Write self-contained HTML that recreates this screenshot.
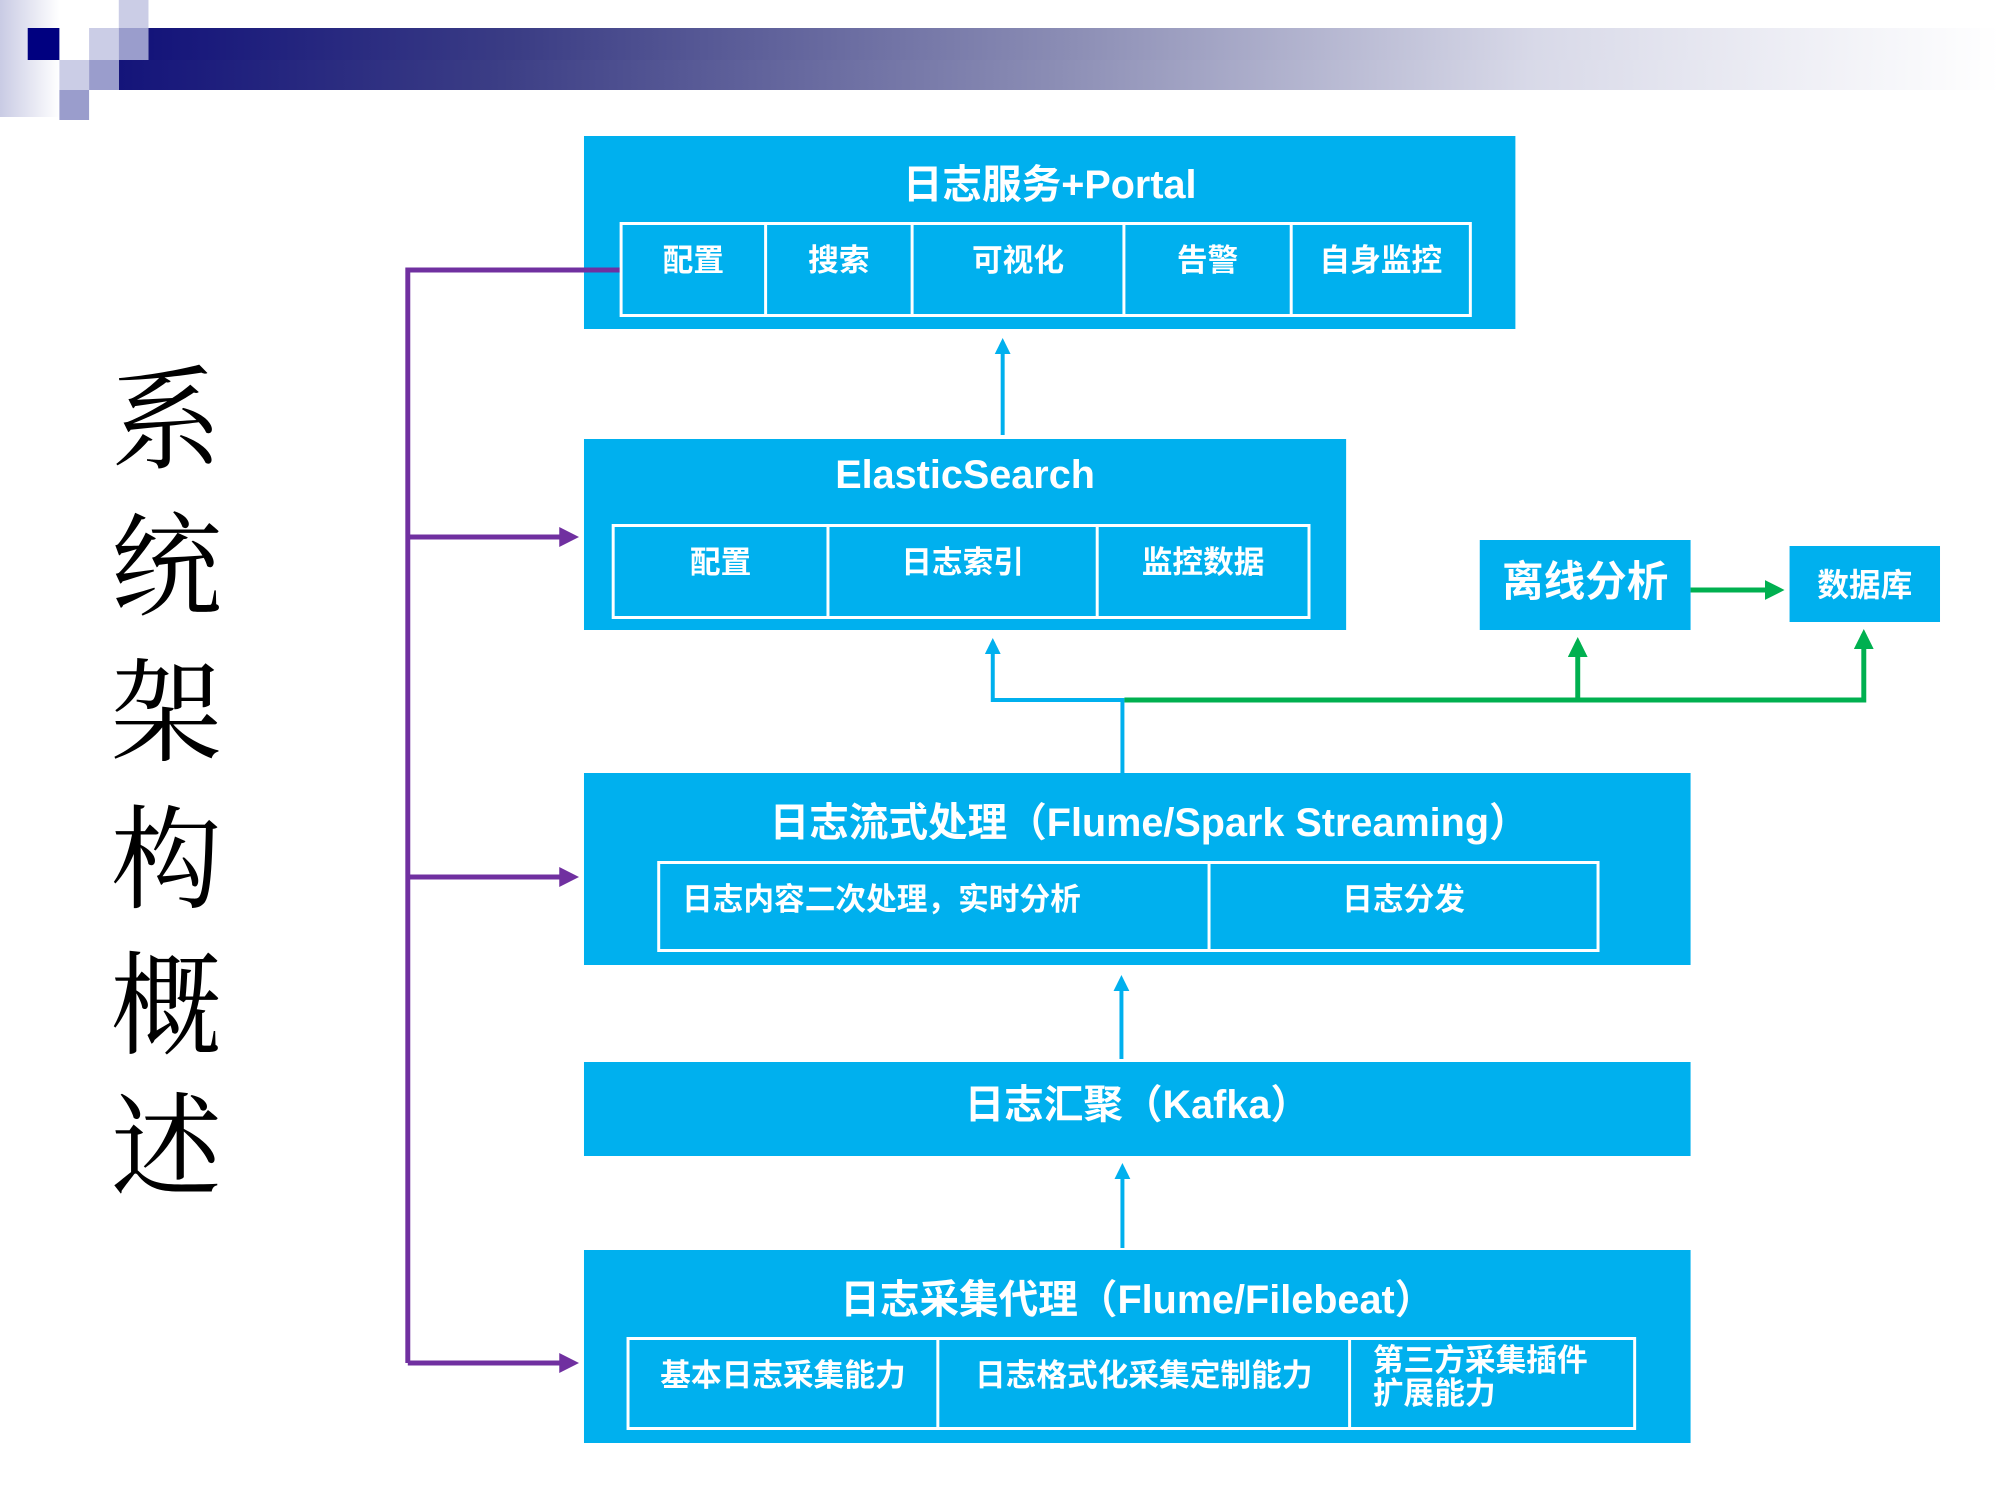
<!DOCTYPE html>
<html><head><meta charset="utf-8"><style>
*{margin:0;padding:0;box-sizing:border-box}
html,body{width:2000px;height:1500px;overflow:hidden;background:#fff}
#w{width:2000px;height:1500px;position:relative;transform:scaleX(0.9898);transform-origin:0 0;font-family:"Liberation Sans","Noto Sans CJK SC",sans-serif}
.a{position:absolute}
.box{position:absolute;background:#00b0ee}
.t{position:absolute;left:0;right:0;text-align:center;color:#fff;font-weight:bold;white-space:nowrap}
.row{position:absolute;border:3px solid #fff;display:flex}
.row>div{border-right:3px solid #fff;color:#fff;font-weight:bold;font-size:31px;display:flex;justify-content:center;padding-top:10px;white-space:nowrap}
.row>div:last-child{border-right:none}
.v{position:absolute;left:108px;width:120px;text-align:center;font-family:"Liberation Serif","Noto Serif CJK SC",serif;font-size:112px;line-height:112px;color:#000}
</style></head><body><div id="w">
<div class="a" style="left:0;top:0;width:60px;height:117px;background:linear-gradient(90deg,#c9cbe4,#fff)"></div>
<div class="a" style="left:150px;top:28px;width:1870px;height:32px;background:linear-gradient(90deg,#14147a,#3b3d85 20%,#8c8eb5 50%,#d8d9e8 75%,#fff 100%)"></div>
<div class="a" style="left:120px;top:60px;width:1900px;height:30px;background:linear-gradient(90deg,#14147a,#3b3d85 20%,#8c8eb5 50%,#d8d9e8 75%,#fff 100%)"></div>
<div class="a" style="left:28px;top:28px;width:32px;height:32px;background:#000080"></div>
<div class="a" style="left:120px;top:0;width:30px;height:28px;background:#cbcde6"></div>
<div class="a" style="left:90px;top:28px;width:30px;height:32px;background:#cbcde6"></div>
<div class="a" style="left:120px;top:28px;width:30px;height:32px;background:#9a9dcc"></div>
<div class="a" style="left:60px;top:60px;width:30px;height:30px;background:#cbcde6"></div>
<div class="a" style="left:90px;top:60px;width:30px;height:30px;background:#9a9dcc"></div>
<div class="a" style="left:60px;top:90px;width:30px;height:30px;background:#9a9dcc"></div>

<div class="v" style="top:366px">系</div>
<div class="v" style="top:513px">统</div>
<div class="v" style="top:659px">架</div>
<div class="v" style="top:806px">构</div>
<div class="v" style="top:952px">概</div>
<div class="v" style="top:1093px">述</div>

<div class="box" style="left:590px;top:136px;width:941px;height:193px">
 <div class="t" style="top:16px;font-size:40px">日志服务+Portal</div>
 <div class="row" style="left:36px;top:86px;width:861px;height:95px">
  <div style="width:146px">配置</div><div style="width:148px">搜索</div><div style="width:214px">可视化</div><div style="width:169px">告警</div><div style="flex:1">自身监控</div>
 </div>
</div>

<div class="box" style="left:590px;top:439px;width:770px;height:191px">
 <div class="t" style="top:14px;font-size:40px">ElasticSearch</div>
 <div class="row" style="left:28px;top:85px;width:706px;height:95px">
  <div style="width:217px">配置</div><div style="width:272px">日志索引</div><div style="flex:1">监控数据</div>
 </div>
</div>

<div class="box" style="left:1495px;top:540px;width:213px;height:90px">
 <div class="t" style="top:8px;font-size:42px">离线分析</div>
</div>
<div class="box" style="left:1808px;top:546px;width:152px;height:76px">
 <div class="t" style="top:14px;font-size:32px">数据库</div>
</div>

<div class="box" style="left:590px;top:773px;width:1118px;height:192px">
 <div class="t" style="top:17px;font-size:40px;padding-left:24px">日志流式处理（Flume/Spark Streaming）</div>
 <div class="row" style="left:74px;top:88px;width:952px;height:91px">
  <div style="width:556px;justify-content:flex-start;padding-left:22px">日志内容二次处理，实时分析</div><div style="flex:1">日志分发</div>
 </div>
</div>

<div class="box" style="left:590px;top:1062px;width:1118px;height:94px">
 <div class="t" style="top:10px;font-size:40px">日志汇聚（Kafka）</div>
</div>

<div class="box" style="left:590px;top:1250px;width:1118px;height:193px">
 <div class="t" style="top:17px;font-size:40px">日志采集代理（Flume/Filebeat）</div>
 <div class="row" style="left:43px;top:87px;width:1020px;height:93px">
  <div style="width:313px">基本日志采集能力</div><div style="width:416px">日志格式化采集定制能力</div><div style="flex:1;justify-content:flex-start;padding-left:22px;padding-top:4px;line-height:33px;white-space:normal;width:200px">第三方采集插件<br>扩展能力</div>
 </div>
</div>

<svg class="a" style="left:0;top:0" width="2000" height="1500">
<defs>
<marker id="mp" markerWidth="4" markerHeight="4" refX="3" refY="2" orient="auto" markerUnits="strokeWidth"><path d="M0,0L4,2L0,4z" fill="#7030a0"/></marker>
<marker id="mb" markerWidth="4" markerHeight="4" refX="3" refY="2" orient="auto" markerUnits="strokeWidth"><path d="M0,0L4,2L0,4z" fill="#00b0ee"/></marker>
<marker id="mg" markerWidth="4" markerHeight="4" refX="3" refY="2" orient="auto" markerUnits="strokeWidth"><path d="M0,0L4,2L0,4z" fill="#00b050"/></marker>
</defs>
<g stroke="#7030a0" stroke-width="5" fill="none">
<path d="M626,270H412V1363"/>
<path d="M412,537H580" marker-end="url(#mp)"/>
<path d="M412,877H580" marker-end="url(#mp)"/>
<path d="M412,1363H580" marker-end="url(#mp)"/>
</g>
<g stroke="#00b0ee" stroke-width="4" fill="none">
<path d="M1013,435V342" marker-end="url(#mb)"/>
<path d="M1134,773V700H1003V642" marker-end="url(#mb)"/>
<path d="M1133,1059V979" marker-end="url(#mb)"/>
<path d="M1134,1248V1167" marker-end="url(#mb)"/>
</g>
<g stroke="#00b050" stroke-width="5" fill="none">
<path d="M1136,700H1883V634" marker-end="url(#mg)"/>
<path d="M1594,700V642" marker-end="url(#mg)"/>
<path d="M1708,590H1798" marker-end="url(#mg)"/>
</g>
</svg>
</div></body></html>
